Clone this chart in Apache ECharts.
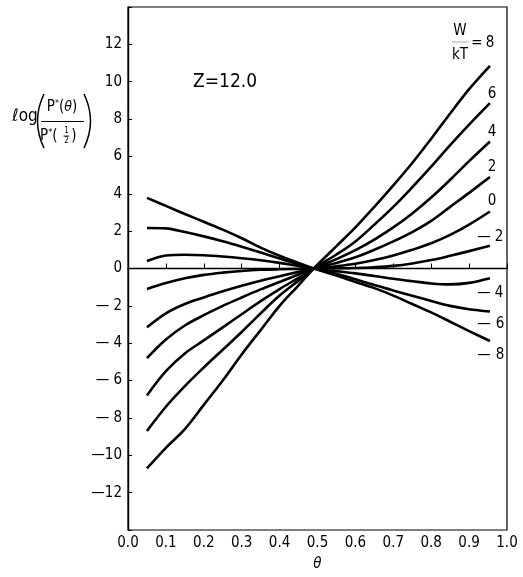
<!DOCTYPE html>
<html>
<head>
<meta charset="utf-8">
<script src="https://cdn.jsdelivr.net/npm/echarts@6/dist/echarts.min.js"></script>
<style>
html,body{margin:0;padding:0;background:#fff;}
#chart{width:523px;height:577px;}
</style>
</head>
<body>
<div id="chart"></div>
<script>
// theta positions (x) shared by all curves
const theta = [0.05,0.1,0.15,0.2,0.25,0.3,0.35,0.4,0.45,0.49,0.55,0.6,0.65,0.7,0.75,0.8,0.85,0.9,0.955];
// log(P*(theta)/P*(1/2)) for each W/kT
const w8  = [-10.7,-9.6,-8.6,-7.3,-6.0,-4.6,-3.3,-2.0,-0.9,0, 1.2,2.2,3.3,4.45,5.65,6.95,8.3,9.6,10.85];
const w6  = [-8.7,-7.4,-6.3,-5.3,-4.35,-3.4,-2.4,-1.45,-0.65,0, 0.75,1.45,2.35,3.3,4.35,5.45,6.6,7.7,8.85];
const w4  = [-6.8,-5.5,-4.55,-3.85,-3.15,-2.45,-1.75,-1.1,-0.5,0, 0.5,0.98,1.55,2.2,2.95,3.8,4.75,5.75,6.8];
const w2  = [-4.8,-3.8,-3.05,-2.5,-2.0,-1.55,-1.12,-0.72,-0.32,0, 0.3,0.6,1.0,1.45,1.95,2.55,3.3,4.05,4.9];
const w0  = [-3.15,-2.4,-1.9,-1.55,-1.22,-0.92,-0.65,-0.42,-0.18,0, 0.12,0.25,0.45,0.7,1.0,1.35,1.8,2.35,3.05];
const wm2 = [-1.1,-0.78,-0.52,-0.34,-0.22,-0.13,-0.07,-0.04,-0.02,0, 0.01,0.03,0.07,0.14,0.27,0.45,0.68,0.93,1.22];
const wm4 = [0.4,0.7,0.74,0.71,0.64,0.55,0.44,0.3,0.13,0, -0.14,-0.26,-0.4,-0.55,-0.68,-0.8,-0.85,-0.77,-0.52];
const wm6 = [2.17,2.15,1.95,1.72,1.46,1.17,0.86,0.53,0.22,0, -0.28,-0.58,-0.88,-1.18,-1.46,-1.74,-2.0,-2.18,-2.3];
const wm8 = [3.78,3.35,2.92,2.5,2.08,1.62,1.12,0.68,0.3,0, -0.38,-0.72,-1.05,-1.45,-1.9,-2.35,-2.85,-3.35,-3.88];
const seriesNames = ['8','6','4','2','0','-2','-4','-6','-8'];
const seriesValues = [w8,w6,w4,w2,w0,wm2,wm4,wm6,wm8];
const xTickValues = [0,0.1,0.2,0.3,0.4,0.5,0.6,0.7,0.8,0.9,1.0];
const yTickValues = [-12,-10,-8,-6,-4,-2,0,2,4,6,8,10,12];

const FONT = "'Liberation Sans Narrow','DejaVu Sans Condensed','Liberation Sans',sans-serif";
const chart = echarts.init(document.getElementById('chart'), null, {renderer:'canvas'});

function txt(x, y, text, size, opts) {
  opts = opts || {};
  return {
    type: 'text', x: x, y: y, silent: true,
    style: Object.assign({
      text: text,
      font: (opts.italic ? 'italic ' : '') + size + 'px ' + (opts.family || FONT),
      fill: '#000',
      align: opts.align || 'center', verticalAlign: 'middle',
      textAlign: opts.align || 'center', textVerticalAlign: 'middle'
    }, opts.style || {})
  };
}
function ln(x1, y1, x2, y2, w, c) {
  return {type:'line', silent:true, shape:{x1:x1,y1:y1,x2:x2,y2:y2}, style:{stroke:c||'#000', lineWidth:w||1}};
}

const series = seriesValues.map((vals, k) => ({
  name: seriesNames[k],
  type: 'line',
  data: theta.map((t, i) => [t, vals[i]]),
  smooth: 0.35,
  showSymbol: false,
  symbol: 'none',
  silent: true,
  lineStyle: {color:'#000', width:2.6},
  z: 3
}));
series[0].markLine = {
  silent: true, symbol: 'none', animation: false,
  label: {show:false},
  lineStyle: {color:'#000', width:1, type:'solid'},
  data: [{yAxis: 0}]
};

const option = {
  animation: false,
  backgroundColor: '#fff',
  grid: {left:128, top:7, width:379, height:525, show:true, borderColor:'#000', borderWidth:1.2, backgroundColor:'transparent'},
  xAxis: {
    type: 'value', min: 0, max: 1, interval: 0.1,
    axisLine: {lineStyle:{color:'#000', width:1.4}},
    axisTick: {inside:true, length:5, lineStyle:{color:'#000', width:1}},
    axisLabel: {color:'#000', fontFamily: FONT, fontSize:15, margin:6,
      formatter: v => { const t = xTickValues.find(a => Math.abs(a - v) < 1e-6); return t === undefined ? '' : t.toFixed(1); }},
    splitLine: {show:false},
    name: 'θ', nameLocation: 'middle', nameGap: 27,
    nameTextStyle: {color:'#000', fontFamily: FONT, fontSize:15, fontStyle:'italic'}
  },
  yAxis: {
    type: 'value', min: -14, max: 14, interval: 2,
    axisLine: {lineStyle:{color:'#000', width:1.4}},
    axisTick: {inside:true, length:4, lineStyle:{color:'#000', width:1}},
    axisLabel: {color:'#000', fontFamily: FONT, fontSize:15, margin:6,
      formatter: v => {
        if (!yTickValues.includes(v)) return '';
        if (v < 0) { const a = Math.abs(v); return '\u2014' + (a < 10 ? ' ' : '') + a; }
        return String(v);
      }},
    splitLine: {show:false}
  },
  series: series,
  graphic: [
    // y-axis title: log( P*(θ) / P*(1/2) )
    txt(25, 117, 'ℓog', 17),
    {type:'bezierCurve', silent:true, shape:{x1:44,y1:94,x2:44,y2:148,cpx1:31,cpy1:121}, style:{stroke:'#000', lineWidth:1.5, fill:'none'}},
    {type:'bezierCurve', silent:true, shape:{x1:84,y1:94,x2:84,y2:148,cpx1:97,cpy1:121}, style:{stroke:'#000', lineWidth:1.5, fill:'none'}},
    {type:'text', x:62, y:107, silent:true, style:{
      text:'{a|P}{s|*}{a|(}{i|θ}{a|)}', align:'center', verticalAlign:'middle', textAlign:'center', textVerticalAlign:'middle',
      rich:{a:{fontFamily:FONT, fontSize:15, fill:'#000', color:'#000'}, s:{fontFamily:FONT, fontSize:9, verticalAlign:'top', fill:'#000', color:'#000'}, i:{fontFamily:FONT, fontSize:14, fontStyle:'italic', fill:'#000', color:'#000'}}
    }},
    ln(41, 121.5, 84, 121.5, 1.2),
    {type:'text', x:40, y:136, silent:true, style:{
      text:'{a|P}{s|*}{a|(}', align:'left', verticalAlign:'middle', textAlign:'left', textVerticalAlign:'middle',
      rich:{a:{fontFamily:FONT, fontSize:15, fill:'#000', color:'#000'}, s:{fontFamily:FONT, fontSize:9, verticalAlign:'top', fill:'#000', color:'#000'}}
    }},
    txt(66.5, 131, '1', 8),
    ln(63.5, 136, 69.5, 136, 0.8),
    txt(66.5, 141, '2', 8),
    txt(74, 136, ')', 15),
    // Z annotation
    txt(193, 82, 'Z=12.0', 19, {align:'left'}),
    // W/kT legend label
    txt(460, 31, 'W', 15),
    ln(452, 42, 469, 42, 1, '#aaa'),
    txt(460, 55, 'kT', 15),
    txt(477, 43, '=', 15),
    txt(490, 43, '8', 15),
    txt(492, 94, '6', 15),
    txt(492, 132, '4', 15),
    txt(492, 167, '2', 15),
    txt(492, 201, '0', 15),
    txt(484, 237, '\u2014', 15),
    txt(499, 237, '2', 15),
    txt(484, 293, '\u2014', 15),
    txt(499, 293, '4', 15),
    txt(484, 324, '\u2014', 15),
    txt(500, 324, '6', 15),
    txt(484, 355, '\u2014', 15),
    txt(500, 355, '8', 15)
  ]
};
chart.setOption(option);
</script>
</body>
</html>
